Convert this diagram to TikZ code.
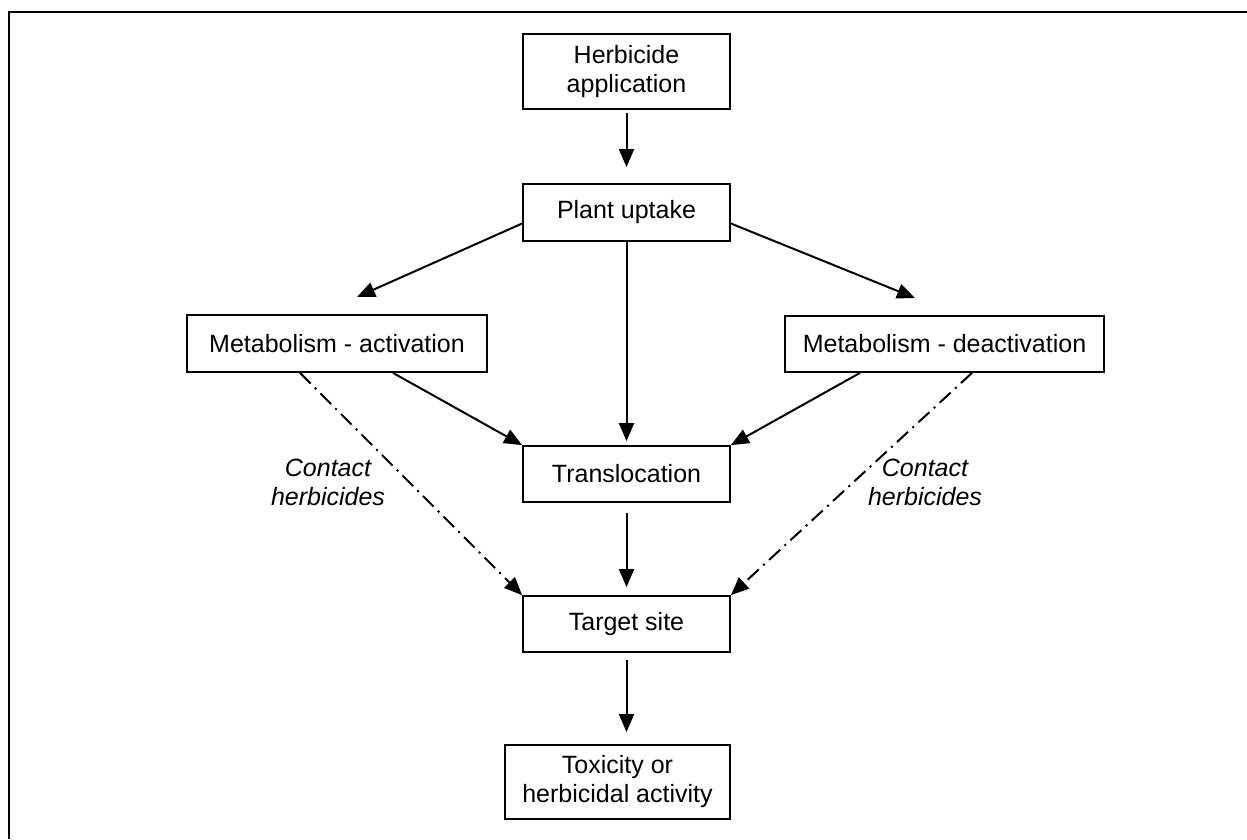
\documentclass[tikz,border=0pt]{standalone}
\usepackage{fontspec}
\setmainfont{Liberation Sans}
\usetikzlibrary{arrows.meta}

\begin{document}
\begin{tikzpicture}[x=1pt, y=-1pt,
    box/.style={rectangle, draw, line width=1.8pt, align=center, inner sep=0pt,
      font=\fontsize{25}{29}\selectfont},
    arr/.style={line width=2pt, -{Triangle[length=18pt,width=15pt]}},
    contactarr/.style={arr, dash pattern=on 15pt off 6pt on 2pt off 6pt},
    contact/.style={align=center, font=\fontsize{25}{29}\selectfont\itshape}]
    \useasboundingbox (0,0) rectangle (1247,839);
    % Frame
    \draw[line width=2.4pt] (9,839) -- (9,12) -- (1247,12);

    % Boxes
    \node[box, minimum width=207pt, minimum height=75pt] (app) at (626.5,71.5) {Herbicide\\application};
    \node[box, minimum width=207pt, minimum height=57pt] (uptake) at (626.5,212.5) {Plant uptake};
    \node[box, minimum width=300pt, minimum height=57pt] (act) at (337,343.5) {Metabolism - activation};
    \node[box, minimum width=319pt, minimum height=56pt] (deact) at (944.5,344) {Metabolism - deactivation};
    \node[box, minimum width=207pt, minimum height=56pt] (transl) at (626.5,474) {Translocation};
    \node[box, minimum width=207pt, minimum height=56pt] (target) at (626.5,624) {Target site};
    \node[box, minimum width=225pt, minimum height=74pt] (tox) at (617.5,782) {Toxicity or\\herbicidal activity};

    % Arrow ends above the metabolism boxes
    \coordinate (actin) at (357,297);
    \coordinate (deactin) at (915,298);

    % Main flow
    \draw[arr, shorten <=3pt, shorten >=16pt] (app) -- (uptake);
    \draw[arr] ([yshift=-11pt]uptake.west) -- (actin);
    \draw[arr] ([yshift=-11pt]uptake.east) -- (deactin);
    \draw[arr, shorten >=4pt] (uptake) -- (transl);
    \draw[arr] ([xshift=56pt]act.south) -- (transl.north west);
    \draw[arr] ([xshift=-84.5pt]deact.south) -- (transl.north east);
    \draw[arr, shorten <=10pt, shorten >=8pt] (transl) -- (target);
    \draw[arr, shorten <=7pt, shorten >=12pt] (target) -- (target |- tox.north);

    % Contact herbicides
    \draw[contactarr] ([xshift=-37pt]act.south) -- (target.north west);
    \draw[contactarr] ([xshift=27.5pt]deact.south) -- (target.north east);
    \node[contact] (contactl) at (328,482) {Contact\\herbicides};
    \node[contact] (contactr) at (925,482) {Contact\\herbicides};
\end{tikzpicture}
\end{document}
